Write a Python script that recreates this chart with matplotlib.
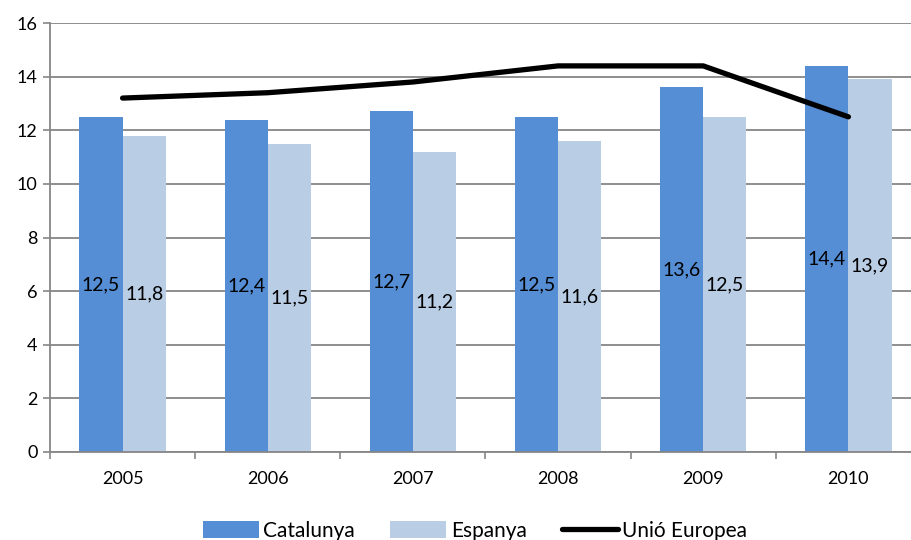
import matplotlib.pyplot as plt
import numpy as np

plt.rcParams['font.family'] = ['Lato', 'DejaVu Sans']

years = ['2005', '2006', '2007', '2008', '2009', '2010']
catalunya = [12.5, 12.4, 12.7, 12.5, 13.6, 14.4]
espanya = [11.8, 11.5, 11.2, 11.6, 12.5, 13.9]
unio_europea = [13.2, 13.4, 13.8, 14.4, 14.4, 12.5]

x = np.arange(len(years))
w = 0.297
grey = '#868686'

fig = plt.figure(figsize=(9.12, 5.4), dpi=100)
ax = fig.add_axes([50 / 912, 88 / 540, 871 / 912, 429 / 540])

b1 = ax.bar(x - w / 2, catalunya, w, color='#558ED5', label='Catalunya', zorder=2)
b2 = ax.bar(x + w / 2, espanya, w, color='#B9CDE5', label='Espanya', zorder=2)
ln, = ax.plot(x, unio_europea, color='black', lw=3.8, solid_capstyle='round',
              label='Unió Europea', zorder=3)

for bars, vals in ((b1, catalunya), (b2, espanya)):
    for bar, v in zip(bars, vals):
        ax.text(bar.get_x() + bar.get_width() / 2, v / 2,
                f'{v:.1f}'.replace('.', ','), ha='center', va='center',
                fontsize=14, zorder=4)

ax.set_ylim(0, 16)
ax.set_yticks(range(0, 17, 2))
ax.set_xlim(-0.5, 5.5)
ax.set_xticks(x)
ax.set_xticklabels(years)
ax.set_xticks(np.arange(-0.5, 6, 1), minor=True)
ax.tick_params(axis='x', which='major', length=0, pad=14, labelsize=13)
ax.tick_params(axis='x', which='minor', length=5, color=grey, width=1.2)
ax.tick_params(axis='y', length=5, color=grey, width=1.2, labelsize=13, pad=4)

ax.yaxis.grid(True, color=grey, lw=1.3, zorder=0)
ax.set_axisbelow(True)
for s in ('top', 'right'):
    ax.spines[s].set_visible(False)
for s in ('left', 'bottom'):
    ax.spines[s].set_color(grey)
    ax.spines[s].set_linewidth(1.3)

leg = fig.legend(handles=[b1, b2, ln], loc='center',
                 bbox_to_anchor=(475 / 912, 1 - 531 / 540), ncol=3,
                 frameon=False, fontsize=15, handlelength=2.7, handleheight=0.9,
                 handletextpad=0.2, columnspacing=1.7)
leg.get_lines()[0].set_solid_capstyle('round')

fig.savefig('out.png', dpi=100)
